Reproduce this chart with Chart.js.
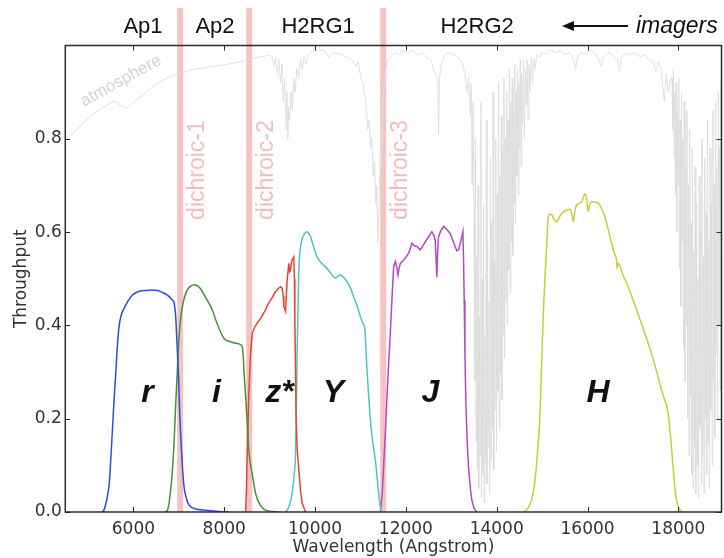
<!DOCTYPE html>
<html><head><meta charset="utf-8">
<script src="https://cdn.jsdelivr.net/npm/chart.js@4/dist/chart.umd.min.js"></script>
<style>html,body{margin:0;padding:0;background:#fff;overflow:hidden}canvas{display:block}</style>
</head><body>
<canvas id="c" width="724" height="558"></canvas>
<script>
// ---------- data ----------
const xTicks = [6000, 8000, 10000, 12000, 14000, 16000, 18000];
const yTicks = [0, 0.2, 0.4, 0.6, 0.8];
const filterNames = ['r', 'i', 'z*', 'Y', 'J', 'H'];
const dichroicNames = ['dichroic-1', 'dichroic-2', 'dichroic-3'];
const dichroicWave = [7030, 8550, 11500];
const imagerNames = ['Ap1', 'Ap2', 'H2RG1', 'H2RG2'];

const rBand = [[5300,0],[5350,0.004],[5420,0.03],[5467,0.06],[5500,0.11],[5540,0.18],[5580,0.25],[5613,0.3],[5650,0.36],[5687,0.4],[5740,0.425],[5797,0.437],[5880,0.452],[5980,0.465],[6100,0.472],[6273,0.475],[6400,0.476],[6530,0.475],[6650,0.47],[6750,0.465],[6850,0.455],[6896,0.448],[6930,0.42],[6960,0.36],[6990,0.3],[7020,0.21],[7043,0.16],[7080,0.095],[7115,0.054],[7170,0.028],[7225,0.015],[7400,0.006],[7592,0.004],[7885,0.001],[8100,0]];
const iBand = [[6700,0],[6750,0.004],[6800,0.03],[6859,0.09],[6900,0.16],[6932,0.233],[6970,0.31],[7005,0.376],[7040,0.415],[7078,0.44],[7130,0.462],[7188,0.476],[7260,0.484],[7335,0.487],[7410,0.485],[7482,0.478],[7560,0.465],[7650,0.45],[7737,0.433],[7820,0.41],[7900,0.39],[7995,0.372],[8050,0.368],[8104,0.366],[8200,0.363],[8300,0.361],[8397,0.355],[8420,0.33],[8434,0.304],[8471,0.247],[8507,0.19],[8543,0.13],[8617,0.08],[8690,0.04],[8764,0.02],[8910,0.004],[9200,0]];
const zBand = [[8470,0],[8490,0.05],[8507,0.126],[8540,0.25],[8580,0.34],[8617,0.383],[8680,0.398],[8763,0.41],[8830,0.42],[8910,0.433],[8960,0.445],[9020,0.454],[9060,0.46],[9100,0.468],[9130,0.472],[9180,0.478],[9240,0.483],[9275,0.48],[9300,0.462],[9313,0.44],[9350,0.43],[9370,0.47],[9385,0.497],[9423,0.533],[9440,0.515],[9460,0.519],[9480,0.535],[9495,0.54],[9532,0.547],[9545,0.5],[9555,0.41],[9570,0.3],[9583,0.197],[9610,0.13],[9643,0.09],[9680,0.045],[9715,0.019],[9790,0]];
const yBand = [[9350,0],[9420,0.01],[9495,0.04],[9540,0.08],[9570,0.126],[9590,0.24],[9605,0.34],[9625,0.44],[9643,0.519],[9660,0.55],[9680,0.569],[9715,0.585],[9753,0.594],[9800,0.6],[9826,0.601],[9860,0.597],[9900,0.59],[9970,0.568],[10046,0.547],[10130,0.535],[10229,0.526],[10340,0.513],[10449,0.501],[10500,0.505],[10559,0.508],[10630,0.503],[10705,0.494],[10780,0.48],[10851,0.461],[10930,0.44],[10998,0.419],[11050,0.405],[11094,0.394],[11120,0.35],[11144,0.304],[11180,0.25],[11218,0.197],[11270,0.15],[11328,0.111],[11370,0.07],[11401,0.04],[11430,0.015],[11460,0]];
const jBand = [[11437,0],[11480,0.04],[11510,0.1],[11547,0.169],[11600,0.28],[11657,0.383],[11700,0.47],[11731,0.526],[11767,0.537],[11800,0.525],[11826,0.508],[11850,0.522],[11877,0.533],[11930,0.538],[11987,0.544],[12060,0.555],[12100,0.566],[12133,0.576],[12190,0.57],[12243,0.569],[12316,0.562],[12370,0.57],[12426,0.579],[12500,0.59],[12573,0.601],[12620,0.592],[12646,0.583],[12665,0.54],[12682,0.504],[12700,0.56],[12719,0.59],[12770,0.603],[12830,0.612],[12900,0.606],[12976,0.597],[13030,0.583],[13086,0.569],[13120,0.56],[13160,0.562],[13210,0.58],[13255,0.601],[13270,0.54],[13284,0.454],[13300,0.34],[13319,0.24],[13350,0.15],[13378,0.097],[13420,0.05],[13451,0.026],[13500,0.008],[13560,0]];
const hBand = [[14600,0],[14700,0.01],[14780,0.03],[14844,0.069],[14900,0.13],[14954,0.212],[14990,0.32],[15027,0.426],[15060,0.5],[15100,0.569],[15137,0.633],[15170,0.638],[15210,0.637],[15260,0.628],[15320,0.622],[15390,0.634],[15467,0.644],[15540,0.647],[15613,0.649],[15650,0.64],[15687,0.622],[15720,0.645],[15760,0.658],[15820,0.662],[15869,0.665],[15910,0.675],[15943,0.682],[15980,0.672],[16016,0.644],[16050,0.66],[16089,0.665],[16160,0.664],[16236,0.662],[16310,0.65],[16382,0.633],[16450,0.608],[16529,0.576],[16600,0.552],[16639,0.54],[16650,0.522],[16675,0.533],[16780,0.508],[16895,0.483],[17040,0.444],[17188,0.404],[17300,0.372],[17407,0.34],[17520,0.302],[17627,0.262],[17700,0.24],[17774,0.212],[17810,0.18],[17847,0.14],[17885,0.095],[17921,0.054],[17960,0.025],[17994,0.011],[18050,0.003],[18103,0]];

const atmosphere = [
[4500,0.797],[4700,0.815],[4900,0.835],[5100,0.852],[5300,0.865],[5500,0.877],[5600,0.881],[5700,0.872],[5850,0.866],[6000,0.878],[6200,0.893],[6400,0.91],[6600,0.923],[6800,0.933],[7000,0.94],[7300,0.948],[7600,0.953],[7900,0.957],[8100,0.96],[8300,0.964],[8500,0.968],[8700,0.974],[8900,0.978],[9000,0.98],
[9050,0.975],[9100,0.955],[9130,0.975],[9170,0.94],[9200,0.97],[9240,0.92],[9270,0.96],[9300,0.88],[9330,0.93],[9360,0.82],[9380,0.9],[9400,0.8],[9420,0.87],[9440,0.84],[9470,0.9],[9500,0.86],[9530,0.93],[9560,0.9],[9600,0.95],[9640,0.93],[9680,0.97],[9720,0.95],[9760,0.975],[9800,0.96],[9850,0.98],
[9900,0.985],[10000,0.99],[10200,0.99],[10300,0.975],[10400,0.985],[10600,0.98],[10800,0.97],[10900,0.955],[10950,0.965],[11000,0.935],[11050,0.92],[11100,0.89],[11130,0.86],[11160,0.82],[11190,0.84],[11220,0.78],[11250,0.8],[11280,0.72],[11310,0.75],[11340,0.66],[11360,0.7],[11380,0.58],[11400,0.64],[11420,0.7],[11440,0.78],[11460,0.74],[11480,0.85],[11500,0.88],[11530,0.93],[11560,0.95],[11600,0.97],
[11650,0.975],[11750,0.985],[11850,0.98],[11950,0.99],[12050,0.985],[12150,0.99],[12250,0.98],[12350,0.985],[12450,0.975],[12550,0.97],[12600,0.95],[12650,0.94],[12700,0.93],[12720,0.81],[12740,0.93],[12780,0.96],[12850,0.98],[12950,0.985],[13050,0.98],[13150,0.975],[13250,0.96],[13300,0.94],[13350,0.9],[13380,0.93],[13420,0.85],[13440,0.92],[13460,0.7],[13480,0.88],
[13500,0.62],[13515,0.28],[13530,0.8],[13545,0.15],[13560,0.55],[13575,0.09],[13590,0.7],[13605,0.05],[13620,0.42],[13635,0.12],[13650,0.88],[13665,0.03],[13680,0.5],[13695,0.08],[13710,0.66],[13725,0.02],[13740,0.38],[13755,0.1],[13770,0.84],[13785,0.06],[13800,0.58],[13815,0.14],[13830,0.45],[13845,0.04],[13860,0.76],[13875,0.11],[13890,0.62],[13905,0.18],[13920,0.9],[13935,0.09],[13950,0.54],[13965,0.22],[13980,0.8],[13995,0.13],[14010,0.68],[14025,0.26],[14040,0.92],[14055,0.18],[14070,0.72],[14085,0.3],[14100,0.85],[14115,0.24],[14130,0.78],[14145,0.38],[14160,0.93],[14175,0.33],[14190,0.8],[14205,0.45],[14220,0.9],[14235,0.4],[14250,0.84],[14265,0.52],[14280,0.95],[14295,0.47],[14310,0.88],[14325,0.58],[14340,0.93],[14355,0.55],[14370,0.86],[14385,0.66],[14400,0.96],[14415,0.62],[14430,0.9],[14445,0.72],[14460,0.95],[14475,0.68],[14490,0.92],[14505,0.78],[14520,0.97],[14535,0.74],[14550,0.94],[14570,0.83],[14590,0.97],[14610,0.8],[14630,0.95],[14650,0.87],[14670,0.97],[14690,0.84],[14710,0.96],[14730,0.9],[14760,0.975],[14790,0.92],[14820,0.97],[14850,0.95],[14880,0.98],
[14950,0.975],[15000,0.985],[15100,0.98],[15200,0.99],[15300,0.985],[15400,0.99],[15500,0.98],[15600,0.985],[15700,0.97],[15740,0.95],[15780,0.975],[15850,0.985],[15950,0.98],[16050,0.99],[16150,0.985],[16250,0.97],[16300,0.955],[16350,0.975],[16450,0.985],[16550,0.98],[16650,0.97],[16700,0.945],[16750,0.975],[16850,0.985],[16950,0.98],[17050,0.985],[17150,0.975],[17250,0.98],[17350,0.97],[17450,0.965],[17510,0.945],[17560,0.965],[17620,0.95],[17690,0.88],[17730,0.94],[17780,0.9],[17830,0.93],
[17860,0.93],[17875,0.82],[17890,0.95],[17905,0.76],[17920,0.9],[17935,0.68],[17950,0.92],[17965,0.6],[17980,0.86],[17995,0.7],[18010,0.93],[18025,0.52],[18040,0.84],[18055,0.44],[18070,0.9],[18085,0.58],[18100,0.8],[18115,0.35],[18130,0.88],[18145,0.28],[18160,0.74],[18175,0.4],[18190,0.86],[18205,0.2],[18220,0.7],[18235,0.12],[18250,0.82],[18265,0.25],[18280,0.62],[18295,0.08],[18310,0.78],[18325,0.05],[18340,0.56],[18355,0.14],[18370,0.74],[18385,0.04],[18400,0.66],[18415,0.1],[18430,0.5],[18445,0.03],[18460,0.72],[18475,0.18],[18490,0.6],[18505,0.06],[18520,0.8],[18535,0.12],[18550,0.55],[18565,0.04],[18580,0.76],[18595,0.2],[18610,0.64],[18625,0.08],[18640,0.84],[18655,0.15],[18670,0.58],[18685,0.05],[18700,0.78],[18715,0.22],[18730,0.66],[18745,0.1],[18760,0.86],[18775,0.28],[18790,0.7],[18805,0.16],[18820,0.88],[18835,0.34],[18850,0.74],[18865,0.2],[18880,0.9],[18895,0.4],[18910,0.78],[18925,0.26],[18940,0.92],[18955,0.45]
];

// ---------- chart ----------
const toXY = arr => arr.map(p => ({x: p[0], y: p[1]}));
const filterSets = [rBand, iBand, zBand, yBand, jBand, hBand];
const filterColors = ['#2a4ee0', '#4a8f3c', '#e8452c', '#4cc6c2', '#b648c6', '#c9cc3e'];
const filterSmooth = ['monotone', 'monotone', 'default', 'monotone', 'default', 'monotone'];

const datasets = [{
  label: 'atmosphere', data: toXY(atmosphere), borderColor: '#dcdcdc', borderWidth: 0.9,
  pointRadius: 0, tension: 0, fill: false
}];
filterSets.forEach((s, k) => datasets.push({
  label: filterNames[k], data: toXY(s), borderColor: filterColors[k], borderWidth: 1.5,
  pointRadius: 0, cubicInterpolationMode: filterSmooth[k], tension: 0, fill: false
}));

const PINK = '#f6c3c3';
const decor = {
  id: 'decor',
  beforeDatasetsDraw(chart) {
    const {ctx, chartArea: a, scales: {x, y}} = chart;
    ctx.save();
    dichroicWave.forEach((w, k) => {
      const px = x.getPixelForValue(w);
      ctx.fillStyle = PINK;
      ctx.fillRect(px - 3, 8, 6, a.bottom - 8);
      ctx.save();
      ctx.translate(px + 17, y.getPixelForValue(0.733));
      ctx.rotate(-Math.PI / 2);
      ctx.font = '23px "Liberation Sans", Arial, sans-serif';
      ctx.fillStyle = '#f4bcbc';
      ctx.textAlign = 'center'; ctx.textBaseline = 'middle';
      ctx.fillText(dichroicNames[k], 0, 0);
      ctx.restore();
    });
    ctx.save();
    ctx.translate(x.getPixelForValue(5727), y.getPixelForValue(0.924));
    ctx.rotate(-29 * Math.PI / 180);
    ctx.font = '17px "Liberation Sans", Arial, sans-serif';
    ctx.fillStyle = '#d4d4d4';
    ctx.textAlign = 'center'; ctx.textBaseline = 'middle';
    ctx.fillText('atmosphere', 0, 0);
    ctx.restore();
    ctx.restore();
  },
  afterDatasetsDraw(chart) {
    const {ctx, chartArea: a, scales: {x, y}} = chart;
    ctx.save();
    const labelWave = [6307, 7827, 9219, 10405, 12537, 16229];
    ctx.font = 'italic bold 32px "Liberation Sans", Arial, sans-serif';
    ctx.fillStyle = '#111';
    ctx.textAlign = 'center'; ctx.textBaseline = 'alphabetic';
    filterNames.forEach((n, k) => ctx.fillText(n, x.getPixelForValue(labelWave[k]), y.getPixelForValue(0.236)));
    ctx.strokeStyle = '#2b2b2b'; ctx.lineWidth = 1.5;
    ctx.strokeRect(a.left, a.top, a.right - a.left, a.bottom - a.top);
    ctx.lineWidth = 1;
    ctx.beginPath();
    xTicks.forEach(v => {
      const px = Math.round(x.getPixelForValue(v)) + 0.5;
      ctx.moveTo(px, a.bottom); ctx.lineTo(px, a.bottom - 5);
      ctx.moveTo(px, a.top); ctx.lineTo(px, a.top + 5);
    });
    yTicks.forEach(v => {
      const py = Math.round(y.getPixelForValue(v)) + 0.5;
      ctx.moveTo(a.left, py); ctx.lineTo(a.left + 5, py);
      ctx.moveTo(a.right, py); ctx.lineTo(a.right - 5, py);
    });
    ctx.stroke();
    const imagerWave = [6211, 7797, 10066, 13568];
    ctx.font = '22px "Liberation Sans", Arial, sans-serif';
    ctx.fillStyle = '#111';
    ctx.textAlign = 'center'; ctx.textBaseline = 'alphabetic';
    imagerNames.forEach((n, k) => ctx.fillText(n, x.getPixelForValue(imagerWave[k]), 33));
    const ax0 = x.getPixelForValue(16890), ax1 = x.getPixelForValue(15437), ay = 26;
    ctx.strokeStyle = '#111'; ctx.lineWidth = 2;
    ctx.beginPath(); ctx.moveTo(ax0, ay); ctx.lineTo(ax1 + 6, ay); ctx.stroke();
    ctx.beginPath(); ctx.moveTo(ax1, ay); ctx.lineTo(ax1 + 12, ay - 5); ctx.lineTo(ax1 + 12, ay + 5); ctx.closePath(); ctx.fill();
    ctx.font = 'italic 23px "Liberation Sans", Arial, sans-serif';
    ctx.textAlign = 'left';
    ctx.fillText('imagers', x.getPixelForValue(17066), 33);
    ctx.restore();
  }
};

const tickFont = {family: '"DejaVu Sans", sans-serif', size: 17};
new Chart(document.getElementById('c'), {
  type: 'line',
  data: {datasets},
  options: {
    responsive: false, animation: false, devicePixelRatio: 1,
    layout: {padding: {top: 45.5, right: 2.5, left: 0, bottom: 0}},
    plugins: {legend: {display: false}, tooltip: {enabled: false}},
    scales: {
      x: {
        type: 'linear', min: 4500, max: 18950,
        grid: {display: false, drawTicks: false}, border: {display: false},
        afterBuildTicks: s => { s.ticks = xTicks.map(v => ({value: v})); },
        afterFit: s => { s.height = 46; },
        ticks: {font: tickFont, color: '#333', padding: 7, maxRotation: 0, callback: v => String(v)},
        title: {display: true, text: 'Wavelength (Angstrom)', font: tickFont, color: '#333', padding: {top: 0, bottom: 0}}
      },
      y: {
        type: 'linear', min: 0, max: 1.0,
        grid: {display: false, drawTicks: false}, border: {display: false},
        afterBuildTicks: s => { s.ticks = yTicks.map(v => ({value: v})); },
        afterFit: s => { s.width = 65.3; },
        ticks: {font: tickFont, color: '#333', padding: 3.5, callback: v => v.toFixed(1)},
        title: {display: true, text: 'Throughput', font: tickFont, color: '#333', padding: {top: 11, bottom: 0}}
      }
    }
  },
  plugins: [decor]
});
</script>
</body></html>
